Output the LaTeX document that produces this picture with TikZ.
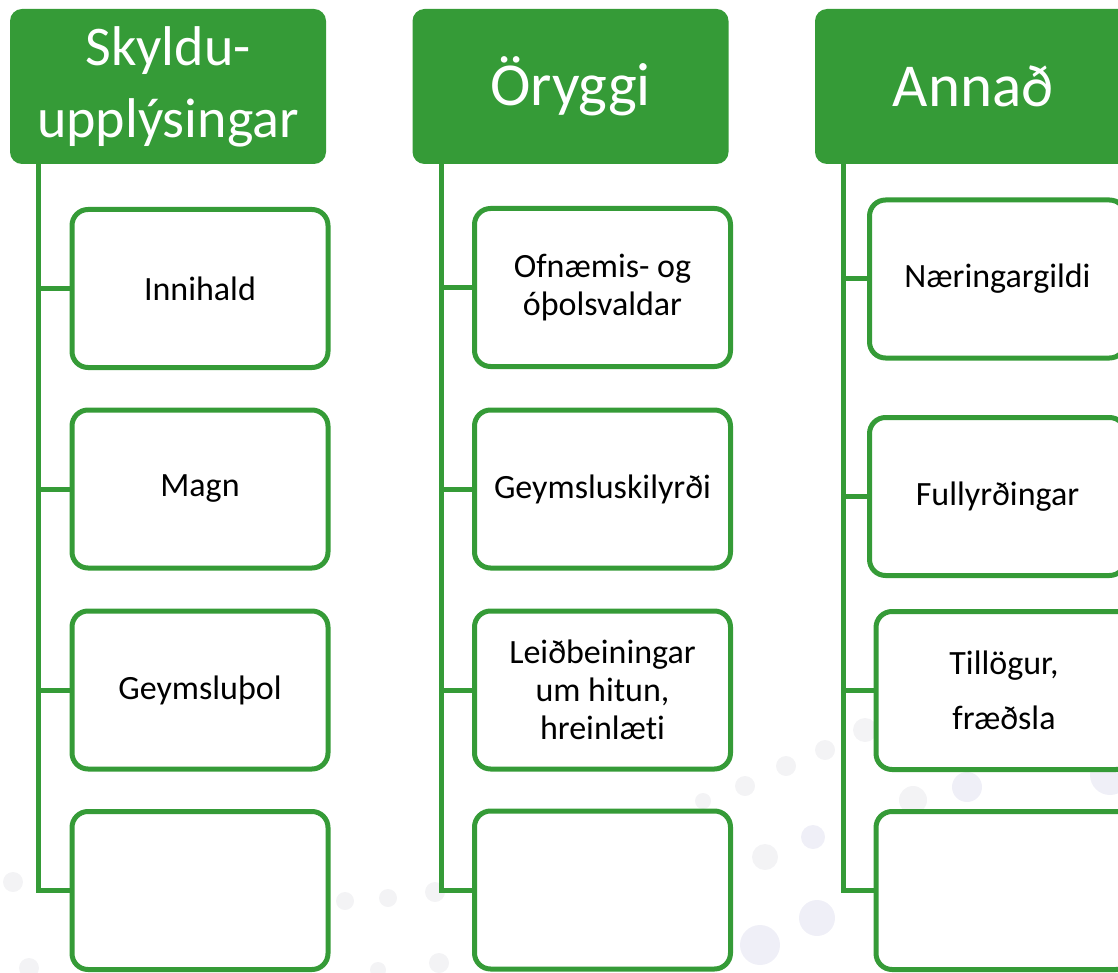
\documentclass[tikz,border=0pt]{standalone}
\usepackage{fontspec}
\setmainfont{Carlito}[Ligatures=NoCommon]
\usetikzlibrary{positioning, calc}
\definecolor{leafgreen}{RGB}{53,155,55}
\definecolor{bubblegray}{RGB}{243,243,245}
\definecolor{bubbleblue}{RGB}{239,239,247}
\tikzstyle{headbox} = [rectangle, rounded corners=12pt, fill=leafgreen, text=white, minimum width=316pt, minimum height=155pt, align=center, inner sep=0pt, font=\fontsize{61}{72}\selectfont]
\tikzstyle{itembox} = [rectangle, rounded corners=16pt, draw=leafgreen, line width=5pt, fill=white, minimum width=256pt, minimum height=158pt, align=center, inner sep=0pt, font=\fontsize{34}{38}\selectfont]
\tikzstyle{trunk} = [draw=leafgreen, line width=5pt]

\begin{document}
\begin{tikzpicture}[x=1pt, y=-1pt]
        \useasboundingbox (0,0) rectangle (1118,973);
        \clip (0,0) rectangle (1118,973);

        % Background bubbles
        \foreach \x/\y/\r in {13/882/10, 29/968/10, 345/901/9, 388/898/9, 435/892/10, 439/963/10, 378/970/8, 703/801/8, 745/786/10, 786/766/10, 825/750/10, 865/730/12, 765/857/13, 913/800/14, 920/703/8}
            \fill[bubblegray] (\x,\y) circle (\r pt);
        \foreach \x/\y/\r in {813/837/12, 817/918/18, 760/945/20, 967/787/15, 1110/775/20}
            \fill[bubbleblue] (\x,\y) circle (\r pt);

        % Headers
        \node[headbox, font=\fontsize{56}{72}\selectfont] (duty) at (168,86.5) {Skyldu-\\upplýsingar};
        \node[headbox] (safety) at (570.5,86.5) {Öryggi};
        \node[headbox] (other) at (973,86.5) {Annað};

        % Skyldu column
        \node[itembox] (duty1) at (200,288.5) {Innihald};
        \node[itembox] (duty2) at ($(duty1)+(0,200.5)$) {Magn};
        \node[itembox] (duty3) at ($(duty2)+(0,201)$) {Geymsluþol};
        \node[itembox] (duty4) at ($(duty3)+(0,200.5)$) {};

        % Öryggi column
        \node[itembox] (safety1) at (602.5,287.5) {Ofnæmis- og\\óþolsvaldar};
        \node[itembox] (safety2) at ($(safety1)+(0,201.5)$) {Geymsluskilyrði};
        \node[itembox] (safety3) at ($(safety2)+(0,201)$) {Leiðbeiningar\\um hitun,\\hreinlæti};
        \node[itembox] (safety4) at ($(safety3)+(0,200)$) {};

        % Annað column
        \node[itembox] (other1) at (997.5,279) {Næringargildi};
        \node[itembox] (other2) at ($(other1)+(0,217.5)$) {Fullyrðingar};
        \node[itembox, font=\fontsize{34}{55}\selectfont] (other3) at (1004,690.5) {Tillögur,\\fræðsla};
        \node[itembox] (other4) at ($(other3)+(0,200)$) {};

        % Trunk lines
        \coordinate (dutytop) at ($(duty.south west)+(29,0)$);
        \coordinate (safetytop) at ($(safety.south west)+(29,0)$);
        \coordinate (othertop) at ($(other.south west)+(29,0)$);
        \draw[trunk] (dutytop) |- (duty4.west);
        \draw[trunk] (safetytop) |- (safety4.west);
        \draw[trunk] (othertop) |- (other4.west);

        % Branches
        \foreach \n in {duty1, duty2, duty3}
            \draw[trunk] (dutytop |- \n.west) -- (\n.west);
        \foreach \n in {safety1, safety2, safety3}
            \draw[trunk] (safetytop |- \n.west) -- (\n.west);
        \foreach \n in {other1, other2, other3}
            \draw[trunk] (othertop |- \n.west) -- (\n.west);
    \end{tikzpicture}
\end{document}
